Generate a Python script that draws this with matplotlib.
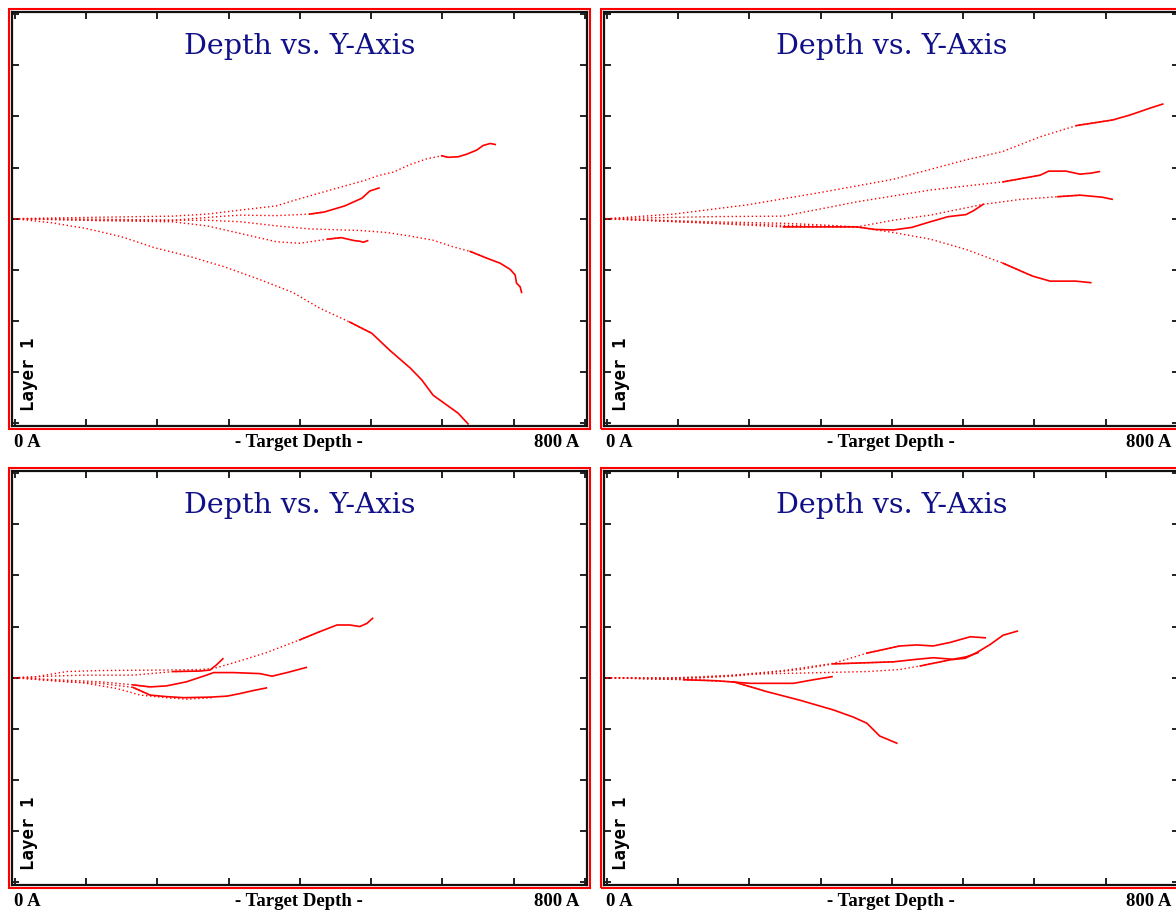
import matplotlib
matplotlib.use("Agg")
import matplotlib.pyplot as plt
from matplotlib.patches import Rectangle
import numpy as np

# ---------------- data (x in A, y in axis units) ----------------
# Top-left panel
tl1_x = [0, 124, 221, 270, 317, 367, 390, 440, 489, 512, 531, 555, 578, 599, 608, 622, 634, 648, 657, 667, 674]
tl1_y = [0, 0.03, 0.05, 0.09, 0.17, 0.25, 0.35, 0.55, 0.74, 0.85, 0.91, 1.06, 1.17, 1.23, 1.20, 1.21, 1.26, 1.34, 1.43, 1.47, 1.45]
tl2_x = [0, 124, 221, 294, 317, 367, 414, 434, 463, 487, 498, 511]
tl2_y = [0, -0.01, -0.03, 0.05, 0.07, 0.06, 0.09, 0.13, 0.25, 0.40, 0.54, 0.60]
tl3_x = [0, 124, 270, 317, 367, 414, 484, 522, 555, 587, 615, 639, 662, 681, 695, 702, 704, 709, 711]
tl3_y = [0, -0.03, -0.03, -0.06, -0.14, -0.20, -0.23, -0.27, -0.34, -0.42, -0.55, -0.64, -0.77, -0.87, -0.99, -1.10, -1.26, -1.33, -1.44]
tl4_x = [0, 124, 221, 270, 317, 367, 400, 439, 458, 477, 484, 489, 495]
tl4_y = [0, -0.04, -0.06, -0.14, -0.29, -0.45, -0.48, -0.40, -0.37, -0.43, -0.44, -0.46, -0.43]
tl5_x = [0, 52, 100, 149, 197, 246, 294, 342, 390, 428, 470, 501, 526, 555, 571, 587, 606, 622, 636]
tl5_y = [0, -0.08, -0.19, -0.35, -0.57, -0.74, -0.94, -1.18, -1.44, -1.75, -2.02, -2.24, -2.57, -2.92, -3.15, -3.45, -3.64, -3.80, -4.01]

# Top-right panel
tr1_x = [0, 94, 197, 299, 402, 504, 555, 608, 659, 710, 735, 762, 780]
tr1_y = [0, 0.09, 0.27, 0.51, 0.77, 1.15, 1.31, 1.60, 1.82, 1.93, 2.03, 2.16, 2.24]
tr2_x = [0, 145, 248, 351, 454, 556, 608, 620, 644, 664, 679, 691]
tr2_y = [0, 0.04, 0.05, 0.33, 0.56, 0.72, 0.85, 0.93, 0.93, 0.87, 0.89, 0.92]
tr3_x = [0, 145, 248, 299, 351, 402, 454, 528, 582, 633, 664, 695, 709]
tr3_y = [0, -0.06, -0.09, -0.12, -0.16, -0.03, 0.07, 0.28, 0.38, 0.43, 0.46, 0.42, 0.38]
tr4_x = [0, 145, 248, 351, 376, 402, 428, 454, 479, 504, 515, 528]
tr4_y = [0, -0.09, -0.16, -0.16, -0.21, -0.22, -0.17, -0.06, 0.04, 0.08, 0.16, 0.28]
tr5_x = [0, 145, 248, 351, 402, 454, 504, 556, 597, 622, 658, 679]
tr5_y = [0, -0.08, -0.13, -0.16, -0.27, -0.40, -0.60, -0.87, -1.12, -1.22, -1.22, -1.25]

# Bottom-left panel
bl1_x = [0, 26, 73, 120, 213, 260, 279, 307, 353, 400, 428, 452, 470, 484, 494, 502]
bl1_y = [0, 0.01, 0.12, 0.14, 0.15, 0.16, 0.18, 0.29, 0.49, 0.74, 0.90, 1.03, 1.03, 1.00, 1.06, 1.16]
bl2_x = [0, 50, 96, 166, 223, 260, 274, 283, 292]
bl2_y = [0, 0.03, 0.05, 0.05, 0.12, 0.13, 0.15, 0.25, 0.37]
bl3_x = [0, 73, 120, 166, 190, 213, 241, 269, 279, 307, 344, 361, 382, 409]
bl3_y = [0, -0.05, -0.08, -0.14, -0.18, -0.16, -0.08, 0.05, 0.10, 0.10, 0.08, 0.03, 0.10, 0.20]
bl4_x = [0, 73, 120, 166, 190, 213, 237, 274, 298, 316, 335, 353]
bl4_y = [0, -0.08, -0.11, -0.19, -0.34, -0.37, -0.39, -0.38, -0.36, -0.31, -0.25, -0.20]
bl5_x = [0, 96, 143, 176, 213, 241, 279]
bl5_y = [0, -0.10, -0.21, -0.34, -0.39, -0.42, -0.39]

# Bottom-right panel
br1_x = [0, 84, 178, 248, 318, 365, 411, 435, 458, 482, 510, 531]
br1_y = [0, -0.01, 0.05, 0.14, 0.28, 0.48, 0.62, 0.64, 0.62, 0.69, 0.80, 0.78]
br2_x = [0, 84, 178, 271, 318, 402, 435, 458, 486, 505, 521]
br2_y = [0, -0.03, 0.03, 0.16, 0.27, 0.31, 0.36, 0.39, 0.36, 0.41, 0.49]
br3_x = [0, 131, 201, 271, 365, 411, 440, 482, 503, 519, 538, 556, 576]
br3_y = [0, 0.0, 0.07, 0.09, 0.12, 0.16, 0.23, 0.35, 0.38, 0.49, 0.65, 0.83, 0.91]
br4_x = [0, 108, 154, 201, 262, 290, 316]
br4_y = [0, -0.04, -0.06, -0.11, -0.11, -0.04, 0.02]
br5_x = [0, 108, 178, 224, 271, 318, 346, 365, 383, 407]
br5_y = [0, -0.03, -0.08, -0.27, -0.44, -0.63, -0.77, -0.89, -1.14, -1.28]

title_text = "Depth vs. Y-Axis"
left_label = "0 A"
mid_label = "- Target Depth -"
right_label = "800 A"
layer_label = "Layer 1"
x_ticks = [0, 100, 200, 300, 400, 500, 600, 700, 800]
y_ticks = [-4, -3, -2, -1, 0, 1, 2, 3, 4]

panels = [
    [(tl1_x, tl1_y), (tl2_x, tl2_y), (tl3_x, tl3_y), (tl4_x, tl4_y), (tl5_x, tl5_y)],
    [(tr1_x, tr1_y), (tr2_x, tr2_y), (tr3_x, tr3_y), (tr4_x, tr4_y), (tr5_x, tr5_y)],
    [(bl1_x, bl1_y), (bl2_x, bl2_y), (bl3_x, bl3_y), (bl4_x, bl4_y), (bl5_x, bl5_y)],
    [(br1_x, br1_y), (br2_x, br2_y), (br3_x, br3_y), (br4_x, br4_y), (br5_x, br5_y)],
]

# ---------------- styling / layout ----------------
# x from which each curve is drawn solid instead of dotted
solid_from = [
    [600, 430, 660, 440, 500],
    [700, 600, 640, 350, 560],
    [420, 260, 180, 190, 900],
    [400, 380, 470, 120, 200],
]

W, H = 1176, 915
fig = plt.figure(figsize=(W / 100, H / 100), dpi=100)
fig.patch.set_facecolor("white")

frame_w, frame_h = 574.5, 414.0
origins = [(12.0, 11.7), (604.0, 11.7), (12.0, 470.7), (604.0, 470.7)]
title_offset = 35.0  # px below the frame top

RED = "#ff0000"
NAVY = "#101088"

for idx, (px0, py0) in enumerate(origins):
    ax = fig.add_axes([px0 / W, (H - py0 - frame_h) / H, frame_w / W, frame_h / H])
    ax.set_xlim(-3.8, 802.1)
    ax.set_ylim(-4.045, 4.045)
    for (xs, ys), sf in zip(panels[idx], solid_from[idx]):
        xs = np.asarray(xs, float)
        ys = np.asarray(ys, float)
        dot = xs <= sf
        sol = xs >= sf
        k = np.searchsorted(xs, sf)
        if 0 < k < len(xs):
            dot[k] = True
            sol[k - 1] = True
        ax.plot(xs[dot], ys[dot], color=RED, lw=1.0, linestyle=(0, (1, 1.9)),
                solid_capstyle="butt", clip_on=True)
        if sol.sum() > 1:
            ax.plot(xs[sol], ys[sol], color=RED, lw=1.2, linestyle="-", clip_on=True)
    ax.set_xticks(x_ticks)
    ax.set_yticks(y_ticks)
    ax.tick_params(axis="both", which="both", direction="in", length=5, width=1.4,
                   color="#222222", labelbottom=False, labelleft=False,
                   top=True, right=True)
    for sp in ax.spines.values():
        sp.set_color("#111111")
        sp.set_linewidth(1.6)
    ax.set_facecolor("white")

    # title
    ax.text(0.5, (frame_h - title_offset) / frame_h, title_text, transform=ax.transAxes,
            ha="center", va="center", fontsize=20.5, family="DejaVu Serif", color=NAVY)
    # Layer 1
    ax.text(8 / frame_w, 15 / frame_h, layer_label, transform=ax.transAxes,
            rotation=90, ha="left", va="bottom", fontsize=12.5,
            family="DejaVu Sans Mono", fontweight="bold", color="black")

    # red outer border
    bx0, by0 = px0 - 3.5, py0 - 3.2
    bw, bh = frame_w + 6.5, frame_h + 6.4
    fig.patches.append(Rectangle((bx0 / W, (H - by0 - bh) / H), bw / W, bh / H,
                                 transform=fig.transFigure, fill=False,
                                 edgecolor=RED, lw=1.5))

    # labels below the panel
    ly = py0 + frame_h + 17.0
    fy = (H - ly) / H
    fig.text((px0 + 2) / W, fy, left_label, ha="left", va="center",
             fontsize=13.5, family="Liberation Serif", fontweight="bold")
    fig.text((px0 + 287) / W, fy, mid_label, ha="center", va="center",
             fontsize=13.5, family="Liberation Serif", fontweight="bold")
    fig.text((px0 + 567) / W, fy, right_label, ha="right", va="center",
             fontsize=13.5, family="Liberation Serif", fontweight="bold")

fig.savefig("out.png", dpi=100, facecolor="white")
